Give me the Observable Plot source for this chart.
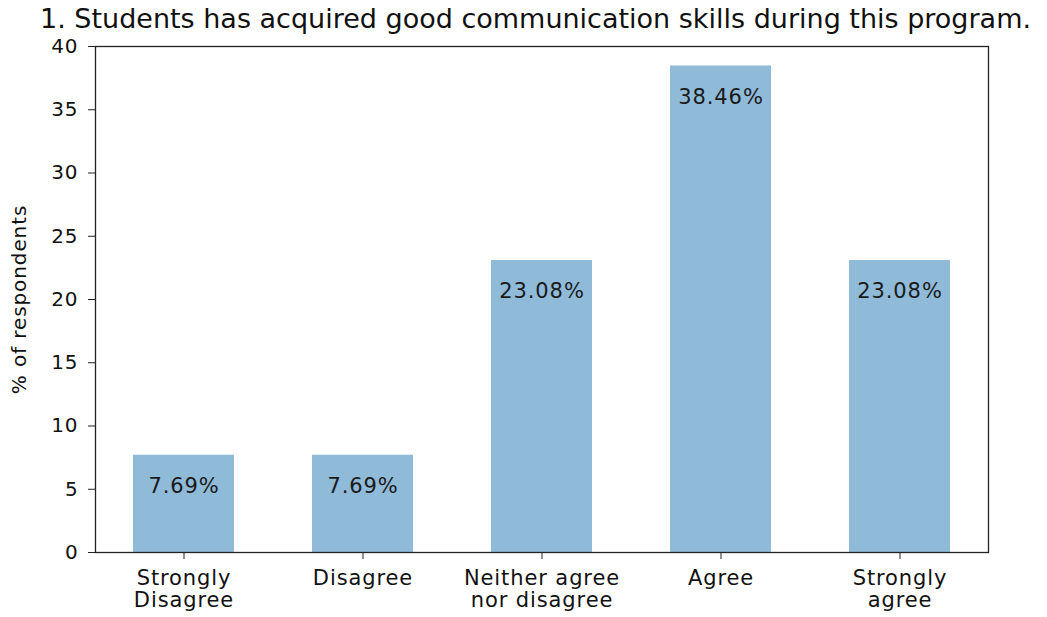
<!DOCTYPE html>
<html>
<head>
<meta charset="utf-8">
<script src="https://cdn.jsdelivr.net/npm/d3@7"></script>
<script src="https://cdn.jsdelivr.net/npm/@observablehq/plot@0.6"></script>
<style>
  body { margin: 0; background: #fff; font-family: "DejaVu Sans", sans-serif; }
  #title { width: 1047px; height: 34px; padding-top: 3px; text-align: center; font-size: 27px; line-height: 31px; color: #111; padding-left: 24px; box-sizing: border-box; white-space: nowrap; }
  svg { display: block; overflow: visible; }
  svg text { letter-spacing: 0.9px; }
</style>
</head>
<body>
<div id="title">1. Students has acquired good communication skills during this program.</div>
<div id="chart"></div>
<script>
const categories = ["Strongly Disagree", "Disagree", "Neither agree nor disagree", "Agree", "Strongly agree"];
const tickLabels = ["Strongly\nDisagree", "Disagree", "Neither agree\nnor disagree", "Agree", "Strongly\nagree"];
const values = [7.69, 7.69, 23.08, 38.46, 23.08];
const yTicks = [0, 5, 10, 15, 20, 25, 30, 35, 40];

const data = categories.map((c, i) => ({category: c, value: values[i], label: values[i].toFixed(2) + "%"}));
const labelOf = new Map(categories.map((c, i) => [c, tickLabels[i]]));

const chart = Plot.plot({
  width: 1047,
  height: 583,
  marginLeft: 95,
  marginRight: 59,
  marginTop: 12,
  marginBottom: 65,
  style: {fontFamily: "DejaVu Sans, sans-serif", fontSize: "20px", color: "#111", background: "#fff", overflow: "visible"},
  x: {domain: categories, paddingInner: 0.438, paddingOuter: 0.213, label: null},
  y: {domain: [0, 40], ticks: yTicks, label: "% of respondents"},
  marks: [
    Plot.barY(data, {x: "category", y: "value", fill: "#8fbbd9"}),
    Plot.text(data, {x: "category", y: "value", text: "label", dy: 31, fill: "#1a1a1a", fontSize: 21, textAnchor: "middle", lineAnchor: "middle"}),
    Plot.axisX({tickSize: 7, tickPadding: 10, tickFormat: d => labelOf.get(d), fontSize: 21, lineHeight: 1.05, label: null, stroke: "#222"}),
    Plot.axisY({ticks: yTicks, tickSize: 7, tickPadding: 10, fontSize: 20, label: "% of respondents", labelAnchor: "center", labelArrow: "none", labelOffset: 84, stroke: "#222"}),
    Plot.frame({stroke: "#222", strokeWidth: 1.3})
  ]
});
document.getElementById("chart").appendChild(chart);
</script>
</body>
</html>
